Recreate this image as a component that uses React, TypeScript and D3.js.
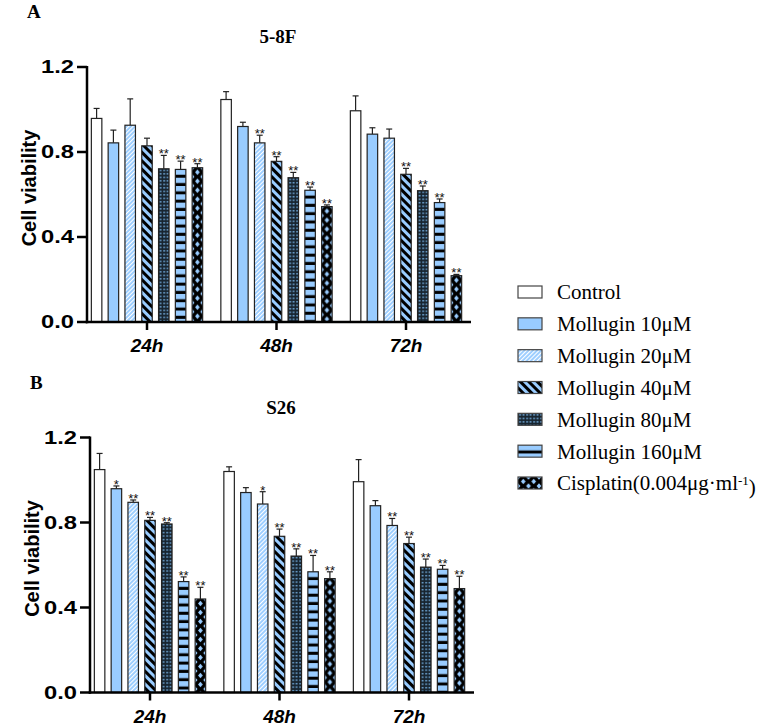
import React from "react";
import * as d3 from "d3";

const groups = ["24h", "48h", "72h"];
const seriesNames = [
  "Control",
  "Mollugin 10μM",
  "Mollugin 20μM",
  "Mollugin 40μM",
  "Mollugin 80μM",
  "Mollugin 160μM",
  "Cisplatin",
];
const yTicks = [0, 0.4, 0.8, 1.2];

// Panel A: 5-8F (rows = groups, cols = series)
const meansA = [
  [0.958, 0.843, 0.926, 0.829, 0.721, 0.718, 0.726],
  [1.047, 0.92, 0.843, 0.756, 0.679, 0.62, 0.543],
  [0.994, 0.884, 0.865, 0.695, 0.618, 0.562, 0.218],
];
const sdA = [
  [0.047, 0.06, 0.124, 0.036, 0.063, 0.039, 0.019],
  [0.037, 0.02, 0.036, 0.022, 0.025, 0.015, 0.008],
  [0.07, 0.03, 0.043, 0.028, 0.022, 0.017, 0.006],
];
const sigA = [
  ["", "", "", "", "**", "**", "**"],
  ["", "", "**", "**", "**", "**", "**"],
  ["", "", "", "**", "**", "**", "**"],
];

// Panel B: S26
const meansB = [
  [1.049, 0.959, 0.895, 0.81, 0.793, 0.522, 0.44],
  [1.04, 0.941, 0.887, 0.735, 0.642, 0.568, 0.536],
  [0.992, 0.879, 0.786, 0.701, 0.59, 0.58, 0.489],
];
const sdB = [
  [0.076, 0.013, 0.011, 0.014, 0.006, 0.022, 0.055],
  [0.022, 0.023, 0.058, 0.034, 0.034, 0.077, 0.032],
  [0.104, 0.024, 0.033, 0.03, 0.038, 0.018, 0.058],
];
const sigB = [
  ["", "*", "**", "**", "**", "**", "**"],
  ["", "", "*", "**", "**", "**", "**"],
  ["", "", "**", "**", "**", "**", "**"],
];

const BLUE = "#99ccff";
const fills = [
  "#ffffff",
  BLUE,
  "url(#p20)",
  "url(#p40)",
  "url(#p80)",
  "url(#p160)",
  "url(#pcis)",
];

const SANS = "'Liberation Sans', Arial, sans-serif";
const SERIF = "'Liberation Serif', 'Times New Roman', serif";

function Patterns() {
  return (
    <defs>
      <pattern id="p20" patternUnits="userSpaceOnUse" width={3} height={3} patternTransform="rotate(45)">
        <rect width={3} height={3} fill={BLUE} />
        <rect width={1.1} height={3} fill="#ffffff" />
      </pattern>
      <pattern id="p40" patternUnits="userSpaceOnUse" width={6} height={6} patternTransform="rotate(-45)">
        <rect width={6} height={6} fill={BLUE} />
        <rect width={3} height={6} fill="#000000" />
      </pattern>
      <pattern id="p80" patternUnits="userSpaceOnUse" width={3.5} height={3.5}>
        <rect width={3.5} height={3.5} fill="#17242f" />
        <rect x={1.2} y={0.8} width={1.8} height={1.5} fill="#6fa6d6" />
      </pattern>
      <pattern id="p160" patternUnits="userSpaceOnUse" width={10} height={8.3}>
        <rect width={10} height={8.3} fill={BLUE} />
        <rect y={5.3} width={10} height={3} fill="#000000" />
      </pattern>
      <pattern id="pcis" patternUnits="userSpaceOnUse" width={10.5} height={9}>
        <rect width={10.5} height={9} fill="#000000" />
        <path d="M5.25,1.8 L7.6,4.5 L5.25,7.2 L2.9,4.5 Z" fill={BLUE} />
        <path d="M0,-2.7 L2.35,0 L0,2.7 Z M10.5,-2.7 L8.15,0 L10.5,2.7 Z M0,6.3 L2.35,9 L0,11.7 Z M10.5,6.3 L8.15,9 L10.5,11.7 Z" fill={BLUE} />
      </pattern>
    </defs>
  );
}

type PanelProps = {
  dx: number;
  dy: number;
  letter: string;
  title: string;
  means: number[][];
  sds: number[][];
  sigs: string[][];
};

function Panel({ dx, dy, letter, title, means, sds, sigs }: PanelProps) {
  const axisX = 87;
  const axisRight = 471;
  const y = d3.scaleLinear().domain([0, 1.2]).range([322, 67]);
  const x0 = d3.scaleBand<string>().domain(groups).range([82.25, 470.75]).padding(0);
  const half = 55.65;
  const tickFmt = d3.format(".1f");
  return (
    <g transform={`translate(${dx},${dy})`}>
      <text x={27} y={18} fontFamily={SERIF} fontWeight="bold" fontSize={19}>{letter}</text>
      <text x={278} y={43} textAnchor="middle" fontFamily={SERIF} fontWeight="bold" fontSize={19}>{title}</text>
      {groups.map((g, gi) => {
        const c = (x0(g) as number) + x0.bandwidth() / 2;
        const x1 = d3
          .scaleBand<number>()
          .domain(d3.range(seriesNames.length))
          .range([c - half, c + half])
          .paddingInner(0.375)
          .paddingOuter(0);
        return (
          <g key={g}>
            {means[gi].map((m, si) => {
              const bx = x1(si) as number;
              const bw = x1.bandwidth();
              const top = y(m);
              const errTop = y(m + sds[gi][si]);
              const cx = bx + bw / 2;
              return (
                <g key={si}>
                  <line x1={cx} x2={cx} y1={top} y2={errTop} stroke="#222" strokeWidth={1.2} />
                  <line x1={cx - 3} x2={cx + 3} y1={errTop} y2={errTop} stroke="#222" strokeWidth={1.2} />
                  <g transform={`translate(${bx},${top})`}>
                    <rect width={bw} height={y(0) - top} fill={fills[si]} stroke="#222" strokeWidth={1.2} />
                  </g>
                  {sigs[gi][si] && (
                    <text x={cx} y={errTop + 3} textAnchor="middle" fontFamily={SANS} fontSize={13} fill="#111">
                      {sigs[gi][si]}
                    </text>
                  )}
                </g>
              );
            })}
            <line x1={c} x2={c} y1={322} y2={330} stroke="#000" strokeWidth={2.5} />
            <text x={c} y={352} textAnchor="middle" fontFamily={SANS} fontWeight="bold" fontStyle="italic" fontSize={19}>
              {g}
            </text>
          </g>
        );
      })}
      <line x1={axisX} x2={axisX} y1={66} y2={323.25} stroke="#000" strokeWidth={2.5} />
      <line x1={axisX - 1.25} x2={axisRight} y1={322} y2={322} stroke="#000" strokeWidth={2.5} />
      {yTicks.map((t) => (
        <g key={t}>
          <line x1={axisX - 10} x2={axisX} y1={y(t)} y2={y(t)} stroke="#000" strokeWidth={2.5} />
          <text
            transform={`translate(${axisX - 13},${y(t)}) scale(1.32,1)`}
            dy="0.35em"
            textAnchor="end"
            fontFamily={SANS}
            fontWeight="bold"
            fontSize={18}
          >
            {tickFmt(t)}
          </text>
        </g>
      ))}
      <text
        transform={`translate(29,188) rotate(-90)`}
        textAnchor="middle"
        dy="0.35em"
        fontFamily={SANS}
        fontWeight="bold"
        fontSize={20}
      >
        Cell viability
      </text>
    </g>
  );
}

function Legend() {
  const ly = d3.scaleLinear().domain([0, 6]).range([292, 483]);
  return (
    <g>
      {seriesNames.map((s, i) => (
        <g key={s}>
          <g transform={`translate(518,${ly(i) - 6})`}>
            <rect width={24} height={12} fill={fills[i]} stroke="#444" strokeWidth={1.2} />
          </g>
          <text x={557} y={ly(i)} dy="0.35em" fontFamily={SERIF} fontSize={21}>
            {i === 6 ? (
              <>
                Cisplatin(0.004μg·ml
                <tspan dy="-0.45em" fontSize={13}>-1</tspan>
                <tspan dy="0.45em">)</tspan>
              </>
            ) : (
              s
            )}
          </text>
        </g>
      ))}
    </g>
  );
}

export default function App() {
  return (
    <svg width={761} height={727} style={{ display: "block", position: "absolute", left: 0, top: 0 }}>
      <rect width={761} height={727} fill="#fff" />
      <Patterns />
      <Panel dx={0} dy={0} letter="A" title="5-8F" means={meansA} sds={sdA} sigs={sigA} />
      <Panel dx={3} dy={370.5} letter="B" title="S26" means={meansB} sds={sdB} sigs={sigB} />
      <Legend />
    </svg>
  );
}
